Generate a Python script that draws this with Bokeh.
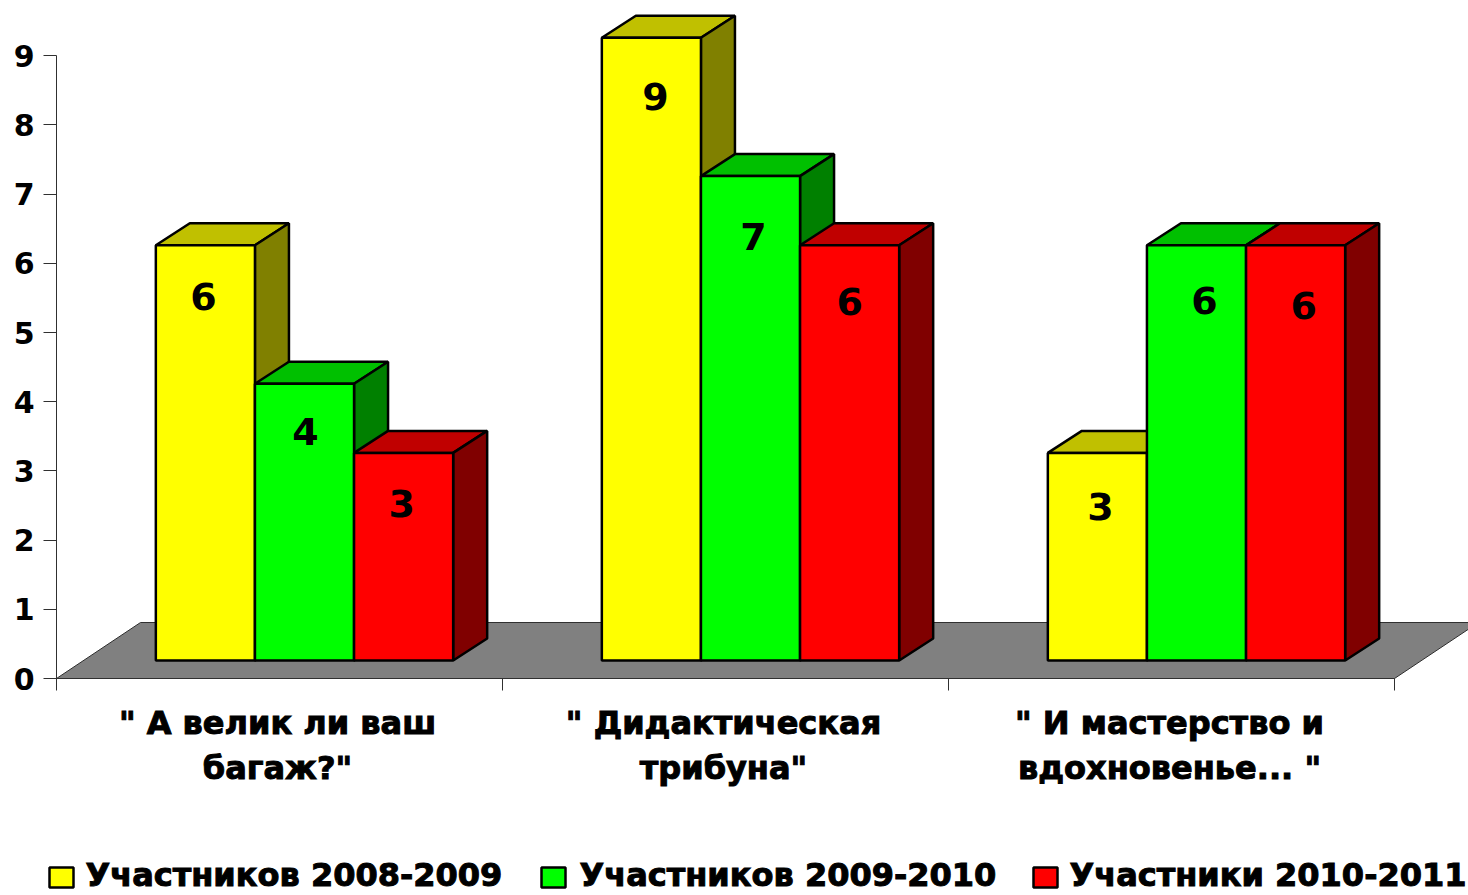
from bokeh.plotting import figure
from bokeh.models import LinearAxis, FixedTicker, Range1d
from bokeh.core.properties import value
from bokeh.embed import file_html
from bokeh.resources import INLINE

categories = ['" А велик ли ваш\nбагаж?"', '" Дидактическая\nтрибуна"', '" И мастерство и\nвдохновенье... "']
series_names = ["Участников 2008-2009", "Участников 2009-2010", "Участники 2010-2011"]
s2008 = [6, 9, 3]
s2009 = [4, 7, 6]
s2010 = [3, 6, 6]
y_ticks = list(range(10))

front_colors = ["#FFFF00", "#00FF00", "#FF0000"]
top_colors = ["#C0C000", "#00C000", "#C00000"]
side_colors = ["#808000", "#008000", "#800000"]
FLOOR = "#808080"
FONT = value("DejaVu Sans")

# scale: pixels of the reference picture
PX_CAT = 446.0
PX_UNIT = 69.2
X0, Y0 = 56.0, 678.0
dx = lambda px: px / PX_CAT
dy = lambda px: px / PX_UNIT
X = lambda px: (px - X0) / PX_CAT
Y = lambda px: (Y0 - px) / PX_UNIT

p = figure(width=1468, height=895, output_backend="svg", toolbar_location=None,
           x_axis_type=None, y_axis_type=None, min_border=0,
           x_range=Range1d(X(0), X(1468)), y_range=Range1d(Y(895), Y(0)),
           outline_line_color=None, background_fill_color="white", border_fill_color="white")
p.grid.visible = False

# floor
fdx, fdy = dx(84), dy(56)
p.patch([0, 3, 3 + fdx, fdx], [0, 0, fdy, fdy], fill_color=FLOOR, line_color="#303030", line_width=1)

# bars
all_series = [s2008, s2009, s2010]
shift_x, shift_y = dx(25), dy(18)
depth_x, depth_y = dx(34), dy(22)
bar_w = 2 / 9
for j, vals in enumerate(all_series):
    for i, v in enumerate(vals):
        x0 = i + 1 / 6 + j * bar_w + shift_x
        x1 = x0 + bar_w
        y0 = shift_y
        y1 = shift_y + v
        lw = 2.5
        p.patch([x0, x1, x1 + depth_x, x0 + depth_x], [y1, y1, y1 + depth_y, y1 + depth_y],
                fill_color=top_colors[j], line_color="black", line_width=lw)
        p.patch([x1, x1 + depth_x, x1 + depth_x, x1], [y0, y0 + depth_y, y1 + depth_y, y1],
                fill_color=side_colors[j], line_color="black", line_width=lw)
        p.patch([x0, x1, x1, x0], [y0, y0, y1, y1],
                fill_color=front_colors[j], line_color="black", line_width=lw)

# value labels (offsets in reference pixels from the bar centre / top)
label_dx = [[-2, 1, -2], [4, 3, 0], [3, 8, 8]]
label_dy = [[51, 48, 51], [59, 60, 56], [54, 55, 60]]
for j, vals in enumerate(all_series):
    for i, v in enumerate(vals):
        xc = i + 1 / 6 + j * bar_w + shift_x + bar_w / 2 + dx(label_dx[i][j])
        yc = shift_y + v - dy(label_dy[i][j])
        p.text([xc], [yc], text=[str(v)], text_font=FONT, text_font_style="bold",
               text_font_size="38px", text_align="center", text_baseline="middle", text_color="black")

# axes
ya = LinearAxis(ticker=FixedTicker(ticks=y_ticks), fixed_location=0, bounds=(0, 9),
                axis_line_color="#303030", major_tick_line_color="#303030",
                major_tick_in=0, major_tick_out=13, minor_tick_line_color=None,
                major_label_text_font="DejaVu Sans", major_label_text_font_style="bold",
                major_label_text_font_size="30px", major_label_text_color="black",
                major_label_standoff=9)
p.add_layout(ya, "left")
xa = LinearAxis(ticker=FixedTicker(ticks=[0, 1, 2, 3]), fixed_location=0, bounds=(0, 3),
                axis_line_color="#303030", major_tick_line_color="#303030",
                major_tick_in=0, major_tick_out=12, minor_tick_line_color=None,
                major_label_overrides={0: "", 1: "", 2: "", 3: ""})
p.add_layout(xa, "below")

# category labels
cat_x = [0.5, 1.5, 2.5]
for xc, label in zip(cat_x, categories):
    for k, line in enumerate(label.split("\n")):
        p.text([xc - dx(2)], [Y(722 + k * 45)], text=[line], text_font=FONT,
               text_font_style="bold", text_font_size="32px", text_align="center",
               text_baseline="middle", text_color="black", text_outline_color="black")

# legend
box_x = [49, 541, 1033]
text_x = [85, 579, 1069]
for j, name in enumerate(series_names):
    p.quad(left=[X(box_x[j])], right=[X(box_x[j] + 24)], bottom=[Y(887)], top=[Y(867)],
           fill_color=front_colors[j], line_color="black", line_width=2.5)
    p.text([X(text_x[j])], [Y(874)], text=[name], text_font=FONT, text_font_style="bold",
           text_font_size="32px", text_align="left", text_baseline="middle", text_color="black",
           text_outline_color="black")

open("out.html", "w").write(file_html(p, INLINE))
